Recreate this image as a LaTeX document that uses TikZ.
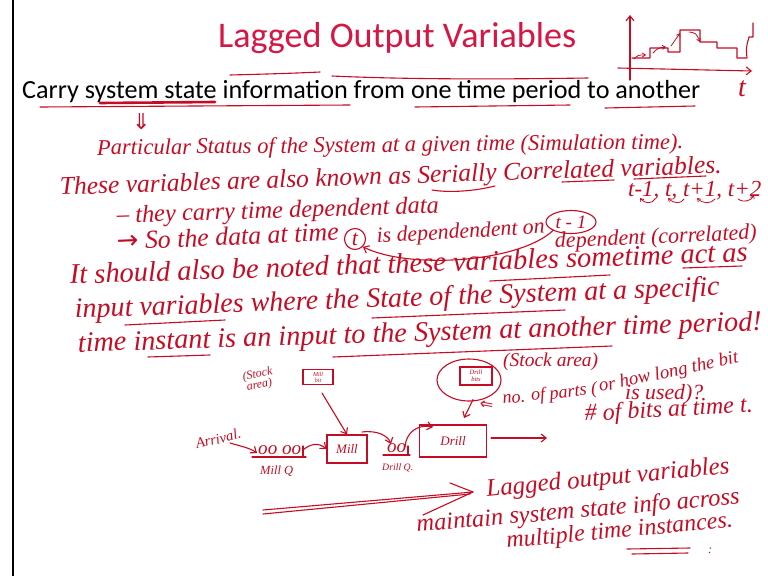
\documentclass[tikz,border=0pt]{standalone}
\usepackage{fontspec}
\setmainfont{Carlito}
\newfontfamily\handf{Liberation Serif}
\newfontfamily\symf{DejaVu Sans}
\usetikzlibrary{arrows.meta,shapes.geometric}
\definecolor{titlered}{RGB}{214,22,68}
\definecolor{ink}{RGB}{198,12,36}
\newcommand\hw[2]{\resizebox{#1pt}{!}{\handf\itshape #2}}
\tikzset{
  hand/.style={text=ink, inner sep=0pt, anchor=base west},
  pen/.style={draw=ink, line width=1.1pt, line cap=round, line join=round},
  arr/.style={pen, -{Straight Barb[length=5pt,width=8pt]}},
  sarr/.style={pen, line width=0.8pt, -{Straight Barb[length=3pt,width=4pt]}},
  box/.style={draw=ink, line width=1.1pt, inner sep=1pt, text=ink, font=\handf\itshape},
}
\begin{document}
\begin{tikzpicture}[x=1pt,y=-1pt]
\useasboundingbox[fill=white] (0,0) rectangle (768,576);
\draw[line width=2.5pt] (13,0) -- (13,576);
% title and printed line
\node[text=titlered, anchor=base west, inner sep=0pt] (title) at (218,47) {\resizebox{358pt}{!}{\fontsize{36}{40}\selectfont Lagged Output Variables}};
\draw[pen] (230,75) .. controls (270,74) and (300,73) .. (320,72);
\draw[pen] (332,76) .. controls (420,80) and (520,79) .. (588,78);
\node[anchor=base west, inner sep=0pt] (carry) at (22,98) {\resizebox{678pt}{!}{\fontsize{22}{26}\selectfont Carry system state information from one time period to another}};
\draw[pen] (40,107) -- (350,105);
\draw[pen, line width=2.6pt] (100,103) -- (215,102);
\draw[pen] (415,107) -- (570,105);
\draw[pen] (605,108) -- (695,106);
% small graph top right
\draw[arr] (630,80) -- (630,15);
\draw[arr] (618,68) -- (752,71);
\node[hand, font=\handf\itshape\fontsize{28}{28}\selectfont] (tlab) at (738,96) {t};
\draw[pen] (632,58) -- (650,58) -- (650,48) -- (668,48) -- (668,52) -- (680,52) -- (680,30) -- (700,30) -- (700,42) -- (717,42) -- (717,48) -- (737,48) -- (737,58) -- (747,58) .. controls (746,48) .. (749,37) -- (753,37) -- (753,23);
\draw[sarr] (634,59) .. controls (638,55) .. (646,55);
\draw[sarr] (653,53) .. controls (658,48) .. (666,47);
\draw[sarr] (671,46) .. controls (676,40) .. (680,33);
\draw[sarr] (689,32) .. controls (696,33) .. (700,42);
% handwriting lines
\node[hand] (dn) at (132,129) {\symf\fontsize{22}{22}\selectfont ⇓};
\node[hand, rotate=0.6] (l1) at (97,155) {\hw{586}{Particular Status of the System at a given time (Simulation time).}};
\node[hand, rotate=1.9] (l2) at (60,195) {\hw{662}{These variables are also known as Serially Correlated variables.}};
\draw[pen] (432,190) .. controls (450,193) and (475,191) .. (495,186);
\draw[pen] (562,182) -- (614,180);
\draw[pen] (634,179) -- (706,176);
\node[hand] (tseq) at (628,196) {\hw{133}{t-1, t, t+1, t+2}};
\draw[sarr] (655,199) .. controls (652,204) and (645,204) .. (640,198);
\draw[sarr] (684,199) .. controls (681,204) and (674,204) .. (668,198);
\draw[sarr] (715,199) .. controls (711,204) and (703,204) .. (697,198);
\draw[sarr] (738,199) .. controls (744,203) and (751,201) .. (754,195);
\node[hand, rotate=1.8] (l3) at (117,223) {\hw{322}{– they carry time dependent data}};
\node[hand, rotate=2.5] (l4) at (117,250) {\hw{222}{\symf→\handf\itshape{} So the data at time}};
\node[circle, draw=ink, line width=1.1pt, text=ink, inner sep=0.5pt, minimum size=21, font=\handf\itshape\fontsize{22}{22}\selectfont] (tc) at (355,239) {t};
\node[hand, rotate=3.3] (l5) at (377,243) {\hw{168}{is dependendent on}};
\node[ellipse, draw=ink, line width=1.1pt, text=ink, inner sep=0pt, minimum width=50, minimum height=23, font=\handf\itshape\fontsize{19}{19}\selectfont] (tm1) at (571,222) {t - 1};
\node[hand, rotate=2.5] (l6) at (555,248) {\hw{202}{dependent (correlated)}};
\draw[arr] (tm1.south west) .. controls (520,262) and (410,270) .. (tc.south east);
\node[hand, rotate=1.9] (l7) at (70,284) {\hw{678}{It should also be noted that these variables sometime act as}};
\draw[pen] (490,281) -- (610,275);
\draw[pen] (683,268) -- (742,266);
\node[hand, rotate=2] (l8) at (75,318) {\hw{645}{input variables where the State of the System at a specific}};
\draw[pen] (125,325) -- (225,320);
\draw[pen] (372,318) -- (565,310);
\node[hand, rotate=1.8] (l9) at (78,352) {\hw{684}{time instant is an input to the System at another time period!}};
\draw[pen] (148,357) -- (210,355);
\draw[pen] (333,357) -- (612,346);
% diagram
\node[hand, align=center, rotate=10, font=\fontsize{12}{11}\selectfont] (stk1) at (245,391) {\handf\itshape (Stock\\\handf\itshape area)};
\node[box, minimum width=30, minimum height=15, align=center, font=\handf\itshape\fontsize{6}{6}\selectfont] (millbit) at (318,377) {Mill\\bit};
\node[box, minimum width=40, minimum height=28, font=\handf\itshape\fontsize{13}{13}\selectfont] (mill) at (347,449) {Mill};
\draw[arr] (millbit.south) ++(4,8) -- (mill.north);
\node[hand, rotate=14] (arrv) at (197,449) {\hw{46}{Arrival.}};
\node[hand] (qm) at (258,454) {\hw{43}{oo oo}};
\draw[pen] (252,457) -- (306,457);
\draw[pen] (303,446) -- (303,457);
\node[hand] (mq) at (260,474) {\hw{33}{Mill Q}};
\draw[arr] (230,443) .. controls (240,446) and (250,448) .. (257,453);
\draw[arr] (303,450) .. controls (310,444) and (318,442) .. (mill.west);
\node[hand] (dqm) at (387,452) {\hw{19}{oo}};
\draw[pen] (383,455) -- (410,455);
\draw[pen] (408,446) -- (408,455);
\node[hand] (dq) at (382,470) {\hw{31}{Drill Q.}};
\node[box, minimum width=67, minimum height=32, font=\handf\itshape\fontsize{13}{13}\selectfont] (drill) at (453,441) {Drill};
\draw[arr] (362,432) .. controls (378,430) and (388,436) .. (391,444);
\draw[arr] (405,447) .. controls (406,432) and (418,424) .. (433,427);
\coordinate (outend) at (547,438);
\draw[arr] (drill.east) ++(4,-3) -- (outend);
\node[box, minimum width=32, minimum height=18, align=center, font=\handf\itshape\fontsize{6.5}{6.5}\selectfont] (drillbit) at (476,376) {Drill\\bits};
\node[ellipse, draw=ink, line width=1.1pt, minimum width=64, minimum height=42] (ell) at (469,380) {};
\draw[arr] (ell.south) ++(4,-2) -- (464,418);
\node[hand] (stk2) at (503,366) {\hw{95}{(Stock area)}};
\node[hand, rotate=-10] (dbl) at (479,408) {\symf\fontsize{16}{16}\selectfont ⇐};
\node[hand, rotate=6] (l10) at (503,404) {\hw{95}{no. of parts (}};
\node[hand, rotate=12] (l11) at (600,392) {\hw{142}{or how long the bit}};
\node[hand] (l12) at (625,399) {\hw{78}{is used)?}};
\node[hand, rotate=3] (l13) at (585,421) {\hw{168}{\# of bits at time t.}};
% bottom note
\coordinate (bs1) at (263,510);
\coordinate (bs2) at (263,514);
\coordinate (btip) at (473,492);
\draw[pen] (bs1) -- (btip);
\draw[pen] (bs2) -- (470,494);
\draw[pen] (450,483) -- (btip) -- (423,515);
\node[hand, rotate=5.6] (b1) at (487,497) {\hw{244}{Lagged output variables}};
\node[hand, rotate=5] (b2) at (417,532) {\hw{324}{maintain system state info across}};
\node[hand, rotate=5.3] (b3) at (507,548) {\hw{227}{multiple time instances.}};
\draw[pen] (627,549) -- (690,548);
\draw[pen] (632,554) -- (688,553);
\node[hand] (colon) at (708,553) {\hw{4}{:}};
\end{tikzpicture}
\end{document}
